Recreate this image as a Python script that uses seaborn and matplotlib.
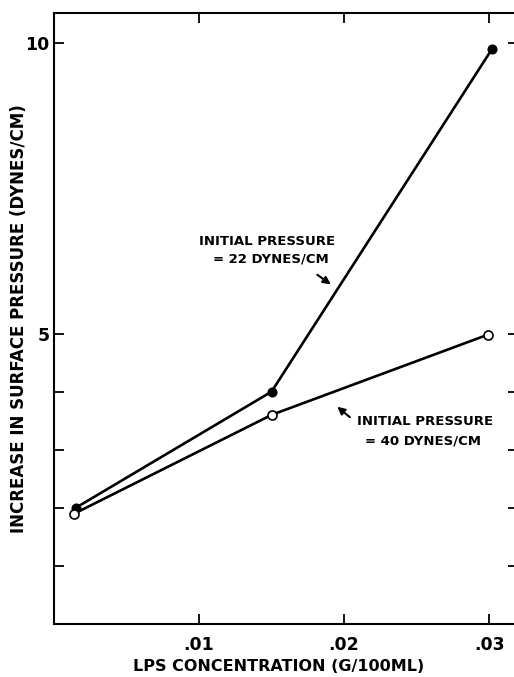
import pandas as pd
import seaborn as sns
import matplotlib.pyplot as plt

# values
conc_22 = [0.0015, 0.0150, 0.0302]
rise_22 = [2.0, 4.0, 9.9]
conc_40 = [0.0014, 0.0150, 0.0299]
rise_40 = [1.9, 3.6, 4.98]

x_ticks = [0.01, 0.02, 0.03]
x_ticklabels = [".01", ".02", ".03"]
y_ticks = [1, 2, 3, 4, 5, 10]
y_ticklabels = ["", "", "", "", "5", "10"]

sns.set_style("ticks")
plt.rcParams["font.family"] = ["DejaVu Sans"]
plt.rcParams["font.weight"] = "bold"
plt.rcParams["text.color"] = "black"
plt.rcParams["axes.labelcolor"] = "black"

df22 = pd.DataFrame({"conc": conc_22, "rise": rise_22})
df40 = pd.DataFrame({"conc": conc_40, "rise": rise_40})

fig = plt.figure(figsize=(5.14, 6.77), dpi=100)
ax = fig.add_axes([0.105, 0.0783, 0.903, 0.9025])

sns.lineplot(data=df22, x="conc", y="rise", ax=ax, color="black", lw=1.9,
             marker="o", markersize=6.5, markerfacecolor="black",
             markeredgecolor="black", sort=False)
sns.lineplot(data=df40, x="conc", y="rise", ax=ax, color="black", lw=1.9,
             marker="o", markersize=6.5, markerfacecolor="white",
             markeredgecolor="black", markeredgewidth=1.2, sort=False)

ax.set_xlim(0, 0.0320)
ax.set_ylim(0, 10.52)
ax.set_xticks(x_ticks)
ax.set_xticklabels(x_ticklabels)
ax.set_yticks(y_ticks)
ax.set_yticklabels(y_ticklabels)
ax.tick_params(direction="in", length=7, width=1.3, top=True, right=True,
               labelsize=12.5, colors="black")
ax.tick_params(axis="x", pad=9)
ax.tick_params(axis="y", pad=3)
for s in ax.spines.values():
    s.set_linewidth(1.5)
    s.set_color("black")

ax.set_xlabel("LPS CONCENTRATION (G/100ML)", fontsize=11.5, fontweight="bold")
ax.set_ylabel("INCREASE IN SURFACE PRESSURE (DYNES/CM)", fontsize=12,
              fontweight="bold")
ax.xaxis.set_label_coords(0.483, -0.058)
ax.yaxis.set_label_coords(-0.055, 0.5)

# annotations
ax.text(0.0100, 6.58, "INITIAL PRESSURE", fontsize=9.5, fontweight="bold", va="center")
ax.text(0.01097, 6.28, "= 22 DYNES/CM", fontsize=9.5, fontweight="bold", va="center")
ax.annotate("", xy=(0.01924, 5.82), xytext=(0.0180, 6.04),
            arrowprops=dict(arrowstyle="-|>", color="black", lw=1.5, mutation_scale=11))

ax.text(0.0209, 3.48, "INITIAL PRESSURE", fontsize=9.5, fontweight="bold", va="center")
ax.text(0.02145, 3.15, "= 40 DYNES/CM", fontsize=9.5, fontweight="bold", va="center")
ax.annotate("", xy=(0.01938, 3.77), xytext=(0.02055, 3.53),
            arrowprops=dict(arrowstyle="-|>", color="black", lw=1.5, mutation_scale=11))

plt.savefig("out.png", dpi=100)
plt.close()
